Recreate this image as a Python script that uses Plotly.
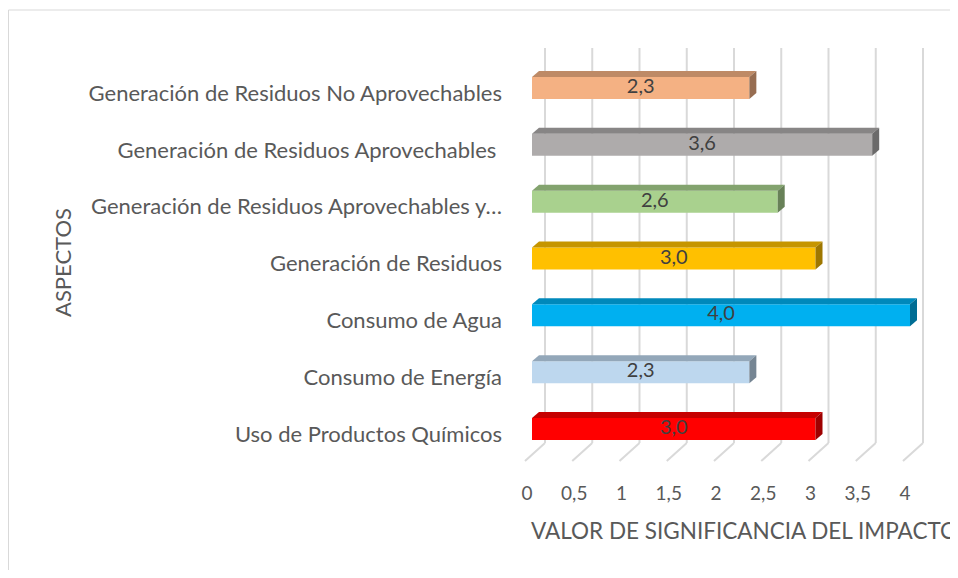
import plotly.graph_objects as go

# ---- data ----
categories = [
    "Uso de Productos Químicos",
    "Consumo de Energía",
    "Consumo de Agua",
    "Generación de Residuos",
    "Generación de Residuos Aprovechables y…",
    "Generación de Residuos Aprovechables\u00a0",
    "Generación de Residuos No Aprovechables",
]
values = [3.0, 2.3, 4.0, 3.0, 2.6, 3.6, 2.3]
colors = ["#FF0000", "#BDD7EE", "#00B0F0", "#FFC000", "#A9D18E", "#AEABAB", "#F4B183"]
tick_vals = [0, 0.5, 1, 1.5, 2, 2.5, 3, 3.5, 4]
tick_text = ["0", "0,5", "1", "1,5", "2", "2,5", "3", "3,5", "4"]
x_title = "VALOR DE SIGNIFICANCIA DEL IMPACTO"
y_title = "ASPECTOS"

# ---- geometry (page pixels; page body has an 8px margin) ----
OFF = 8
W, H = 958, 578
FW, FH = W - OFF, H - 2 * OFF


def fx(p):  # page x -> figure x
    return p - OFF


def fy(p):  # page y -> figure y
    return p - OFF


L = fx(520)
R = 0
T = fy(40)
B = FH - fy(470)
plot_w = FW - L - R
plot_h = FH - T - B
px_x = 94.5            # pixels per unit on x
px_y = 56.83           # pixels per category
x0 = -(fx(532) - L) / px_x
x1 = x0 + plot_w / px_x
y0 = -(fy(470) - fy(429)) / px_y
y1 = y0 + plot_h / px_y


def ydata(page_y):
    return y0 + (fy(470) - fy(page_y)) / px_y


bw = 22 / px_y        # front face height
dx = 7 / px_x         # depth offset x
dy = 6 / px_y         # depth offset y
gx = 13 / px_x        # back wall offset x
grid_top = ydata(48)
grid_bot = ydata(443)
floor_front_y = ydata(461)
floor_front_dx = -7 / px_x


def shade(hexc, f):
    h = hexc.lstrip("#")
    r, g, b = int(h[0:2], 16), int(h[2:4], 16), int(h[4:6], 16)
    return "#%02X%02X%02X" % (int(r * f), int(g * f), int(b * f))


yidx = list(range(len(categories)))

fig = go.Figure()
fig.add_trace(go.Bar(
    x=values, y=yidx, orientation="h", width=bw,
    marker=dict(color=colors, line=dict(width=0)),
    hoverinfo="skip", showlegend=False,
))
fig.add_trace(go.Scatter(
    x=[v / 2 for v in values], y=yidx, mode="text",
    text=[f"{v:.1f}".replace(".", ",") for v in values],
    textfont=dict(family="Lato", size=20, color="#404040"),
    hoverinfo="skip", showlegend=False,
))
# invisible trace for the shifted tick label axis
fig.add_trace(go.Scatter(x=[0], y=[0], xaxis="x2", mode="markers",
                         marker=dict(opacity=0), hoverinfo="skip", showlegend=False))

shapes = []
for t in tick_vals:
    shapes.append(dict(type="line", xref="x", yref="y", layer="below",
                       x0=t + gx, x1=t + gx, y0=grid_bot, y1=grid_top,
                       line=dict(color="#D9D9D9", width=2)))
    shapes.append(dict(type="line", xref="x", yref="y", layer="below",
                       x0=t + gx, x1=t + floor_front_dx, y0=grid_bot, y1=floor_front_y,
                       line=dict(color="#D9D9D9", width=2)))
for i, (v, c) in enumerate(zip(values, colors)):
    top = i + bw / 2
    bot = i - bw / 2
    shapes.append(dict(type="path", xref="x", yref="y", layer="above",
                       path=f"M 0 {top} L {v} {top} L {v+dx} {top+dy} L {dx} {top+dy} Z",
                       fillcolor=shade(c, 0.78), line=dict(width=0)))
    shapes.append(dict(type="path", xref="x", yref="y", layer="above",
                       path=f"M {v} {bot} L {v} {top} L {v+dx} {top+dy} L {v+dx} {bot+dy} Z",
                       fillcolor=shade(c, 0.62), line=dict(width=0)))
# outer border
shapes.append(dict(type="rect", xref="paper", yref="paper",
                   x0=(fx(8.5) - L) / plot_w, x1=1.2,
                   y0=-1, y1=(fy(470) - fy(10)) / plot_h,
                   line=dict(color="#D9D9D9", width=1), fillcolor="rgba(0,0,0,0)", layer="below"))

shift = 5 / px_x
fig.update_layout(
    width=FW, height=FH,
    margin=dict(l=L, r=R, t=T, b=B),
    paper_bgcolor="white", plot_bgcolor="white",
    shapes=shapes,
    xaxis=dict(range=[x0, x1], showgrid=False, zeroline=False, showticklabels=False,
               showline=False, fixedrange=True),
    xaxis2=dict(range=[x0 + shift, x1 + shift], overlaying="x", side="bottom",
                tickvals=tick_vals, ticktext=tick_text,
                showgrid=False, zeroline=False, showline=False,
                tickfont=dict(family="Lato", size=19, color="#595959"),
                ticks="", ticklabelstandoff=10),
    yaxis=dict(range=[y0, y1], tickvals=yidx, ticktext=categories,
               showgrid=False, zeroline=False, showline=False, ticks="",
               tickfont=dict(family="Lato", size=22, color="#595959"),
               ticklabelstandoff=17, ticklabelshift=5),
    annotations=[
        dict(text=x_title, xref="paper", yref="paper", x=(fx(529) - L) / plot_w,
             y=(fy(470) - fy(530)) / plot_h, xanchor="left", yanchor="middle", showarrow=False,
             font=dict(family="Lato", size=22.5, color="#595959")),
        dict(text=y_title, xref="paper", yref="paper", x=(fx(62) - L) / plot_w,
             y=(fy(470) - fy(262)) / plot_h, xanchor="center", yanchor="middle", showarrow=False,
             textangle=-90, font=dict(family="Lato", size=22, color="#595959")),
    ],
)

fig.write_html("out.html")
